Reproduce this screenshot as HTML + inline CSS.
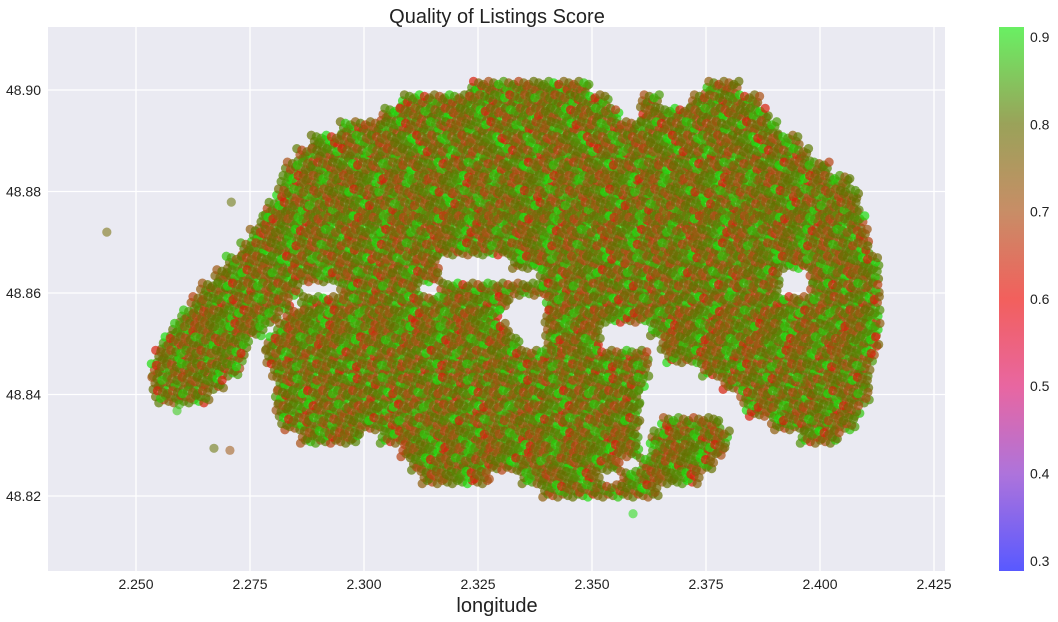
<!DOCTYPE html>
<html><head><meta charset="utf-8"><style>
body{margin:0;background:#fff;}
svg{display:block;font-family:"Liberation Sans",sans-serif;}
</style></head><body>
<svg id="chart" width="1058" height="622">
<rect x="48" y="27" width="897" height="544" fill="#EAEAF2"/>
<g id="grid"></g><g id="dots"></g><g id="ticks"></g>
<text x="497" y="23" text-anchor="middle" font-size="20" fill="#222">Quality of Listings Score</text>
<text x="497" y="612" text-anchor="middle" font-size="20" fill="#222">longitude</text>
<defs><linearGradient id="cg" x1="0" y1="1" x2="0" y2="0"></linearGradient></defs>
<rect x="999" y="27" width="25" height="544" fill="url(#cg)" opacity="0.65"/>
<g id="cbt"></g>
</svg>
<script>
const xTicks=[2.25,2.275,2.3,2.325,2.35,2.375,2.4,2.425];
const yTicks=[48.82,48.84,48.86,48.88,48.90];
const cbTicks=[0.3,0.4,0.5,0.6,0.7,0.8,0.9];
const rowLat0=48.9005, rowStep=0.00265;
const rowSegments=[
[[2.3232,2.3496],[2.3748,2.3825]],
[[2.3079,2.3539],[2.3605,2.3649],[2.3715,2.3868]],
[[2.3035,2.3561],[2.3605,2.3890]],
[[2.2947,2.3912]],
[[2.2882,2.3956]],
[[2.2849,2.3978]],
[[2.2827,2.4022]],
[[2.2816,2.4066]],
[[2.2805,2.4088]],
[[2.2783,2.4088]],
[[2.2768,2.4099]],
[[2.2750,2.4110]],
[[2.2728,2.4110]],
[[2.2695,2.3167],[2.3320,2.4132]],
[[2.2673,2.3167],[2.3386,2.3912],[2.3978,2.4132]],
[[2.2640,2.2860],[2.2947,2.3123],[2.3167,2.3912],[2.3978,2.4132]],
[[2.2618,2.2838],[2.2860,2.3320],[2.3397,2.4132]],
[[2.2596,2.2816],[2.2827,2.3298],[2.3397,2.4132]],
[[2.2575,2.2783],[2.2805,2.3320],[2.3397,2.3518],[2.3627,2.4132]],
[[2.2553,2.2750],[2.2783,2.3342],[2.3397,2.3518],[2.3649,2.4132]],
[[2.2542,2.2739],[2.2783,2.3627],[2.3660,2.4121]],
[[2.2531,2.2728],[2.2794,2.3627],[2.3737,2.4110]],
[[2.2531,2.2695],[2.2805,2.3616],[2.3781,2.4110]],
[[2.2542,2.2662],[2.2805,2.3605],[2.3825,2.4110]],
[[2.2805,2.3605],[2.3836,2.4088]],
[[2.2816,2.3605],[2.3649,2.3781],[2.3890,2.4077]],
[[2.2860,2.2991],[2.3035,2.3605],[2.3627,2.3803],[2.3956,2.4044]],
[[2.3079,2.3605],[2.3627,2.3792]],
[[2.3101,2.3561],[2.3605,2.3770]],
[[2.3123,2.3276],[2.3342,2.3518],[2.3561,2.3737]],
[[2.3386,2.3649]]
];
const scores=[0.8,0.76,0.84,0.72,0.9,0.79,0.68,0.82,0.78,0.74,0.8,0.63,0.88,0.77,0.83,0.7,0.81];
const outLon=[2.2436,2.2709,2.2671,2.2706,2.2590,2.2595,2.3590];
const outLat=[48.8720,48.8779,48.8294,48.8290,48.8368,48.8380,48.8165];
const outScore=[0.78,0.8,0.8,0.72,0.88,0.86,0.9];
const cmapV=[0.29,0.4,0.5,0.6,0.7,0.8,0.91];
const cmapC=[[0,0,255],[130,40,200],[220,20,110],[235,10,5],[170,80,20],[100,112,0],[25,230,15]];

const X=lon=>136+(lon-2.25)*4560;
const Y=lat=>90+(48.90-lat)*5075;
const CB=v=>37+(0.9-v)*873;
function col(v){
  for(let i=0;i<cmapV.length-1;i++){
    if(v<=cmapV[i+1]||i==cmapV.length-2){
      const t=Math.max(0,Math.min(1,(v-cmapV[i])/(cmapV[i+1]-cmapV[i])));
      const a=cmapC[i],b=cmapC[i+1];
      return `rgb(${a.map((c,k)=>Math.round(c+(b[k]-c)*t)).join(',')})`;
    }
  }
}
const NS='http://www.w3.org/2000/svg';
function mk(tag,attrs,parent){const e=document.createElementNS(NS,tag);for(const k in attrs)e.setAttribute(k,attrs[k]);parent.appendChild(e);return e;}
const grid=document.getElementById('grid'),ticks=document.getElementById('ticks'),dots=document.getElementById('dots');
xTicks.forEach(v=>{
  const l=mk('line',{x1:X(v),x2:X(v),y1:27,y2:571,stroke:'#fff','stroke-width':1.3},grid);
  
  
  const t=mk('text',{x:X(v),y:589,'text-anchor':'middle','font-size':14,fill:'#222'},ticks);
  t.textContent=v.toFixed(3);
  
  
});
yTicks.forEach(v=>{
  const l=mk('line',{x1:48,x2:945,y1:Y(v),y2:Y(v),stroke:'#fff','stroke-width':1.3},grid);
  
  
  const t=mk('text',{x:41,y:Y(v)+5,'text-anchor':'end','font-size':14,fill:'#222'},ticks);
  t.textContent=v.toFixed(2);
  
  
});
let n=0;
rowSegments.forEach((segs,r)=>{
  const lat=rowLat0-r*rowStep;
  for(let k=0;k<3;k++){
    const la=lat+(k-1)*0.0009;
    const off=((r*3+k)*0.00041)%0.0011;
    segs.forEach(s=>{
      let j=0;
      for(let lo=s[0]+off;lo<=s[1];lo+=0.0011){
        const v=scores[(n*7+r*3+k)%scores.length];n++;
        const dy=((j*5+k)%3-1)*0.0003;j++;
        const c=mk('circle',{cx:X(lo).toFixed(1),cy:Y(la+dy).toFixed(1),r:4.6,fill:col(v),'fill-opacity':0.7},dots);
        
        
      }
    });
  }
});
outLon.forEach((lo,i)=>{
  const c=mk('circle',{cx:X(lo),cy:Y(outLat[i]),r:4.6,fill:col(outScore[i]),'fill-opacity':0.55},dots);
  
  
});
const g=document.getElementById('cg');
cmapV.forEach((v,i)=>{
  mk('stop',{offset:((v-0.289)/(0.911-0.289)*100)+'%','stop-color':col(v)},g);
});
const cbt=document.getElementById('cbt');
cbTicks.forEach(v=>{
  const t=mk('text',{x:1030,y:CB(v)+5,'font-size':14,fill:'#222'},cbt);
  t.textContent=v.toFixed(1);
  
  
});
</script>
</body></html>
